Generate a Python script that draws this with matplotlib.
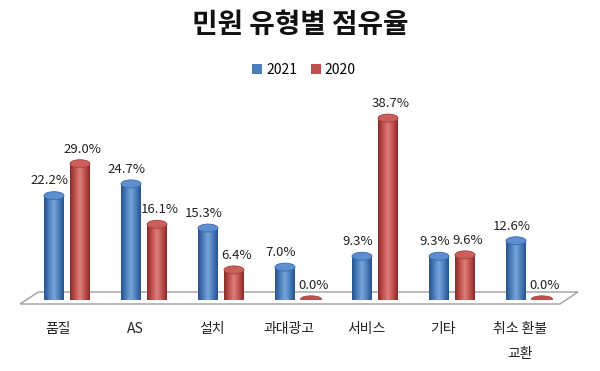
import numpy as np
import matplotlib
matplotlib.use("Agg")
from matplotlib import pyplot as plt
from matplotlib.patches import Ellipse, Polygon, Rectangle
from matplotlib.colors import LinearSegmentedColormap

plt.rcParams['font.family'] = ['Noto Sans CJK KR', 'DejaVu Sans']

# 데이터
categories = ["품질", "AS", "설치", "과대광고", "서비스", "기타", "취소 환불\n교환"]
series_names = ["2021", "2020"]
values_2021 = [22.2, 24.7, 15.3, 7.0, 9.3, 9.3, 12.6]
values_2020 = [29.0, 16.1, 6.4, 0.0, 38.7, 9.6, 0.0]

W, H = 600, 371
fig = plt.figure(figsize=(W / 100, H / 100), dpi=100)
fig.patch.set_facecolor("white")

# 축 위치 (픽셀 기준으로 맞춤)
left_px, width_px = 28.5, 539
base_px, scale = 300, 4.7   # y=0 위치, % 당 픽셀
ymax = 45
ax = fig.add_axes([left_px / W, (H - base_px) / H, width_px / W, ymax * scale / H])
ax.set_xlim(-0.5, 6.5)
ax.set_ylim(0, ymax)
ax.axis("off")

px_x = 1 / 77.0      # 1 픽셀 -> x 데이터
px_y = 1 / scale     # 1 픽셀 -> y 데이터

# 바닥면
floor = Polygon([(-0.5 - 8.5 * px_x, -4 * px_y), (-0.5 + 10 * px_x, 8 * px_y),
                 (6.5 + 10.5 * px_x, 8 * px_y), (6.5 - 7.5 * px_x, -4 * px_y)],
                closed=True, facecolor="white", edgecolor="#a0a0a0", lw=1.0,
                clip_on=False, zorder=1)
ax.add_patch(floor)

styles = {
    "2021": dict(dark="#27538f", mid="#4a7ebb", light="#7aa5dc", cap="#5d8fd0", capedge="#3a6aa8"),
    "2020": dict(dark="#8a2a28", mid="#c0504d", light="#de7f7c", cap="#cc5f5c", capedge="#a33f3c"),
}

bw = 20 * px_x
eh = 8 * px_y
offset = 13 * px_x


def cylinder(x, h, st):
    if h <= 0:
        ax.add_patch(Ellipse((x, 1.0 * px_y), bw * 1.05, eh * 0.8, facecolor=st["mid"],
                             edgecolor=st["capedge"], lw=0.5, zorder=3))
        return
    cmap = LinearSegmentedColormap.from_list(
        "c", [st["dark"], st["mid"], st["light"], st["mid"], st["dark"]])
    grad = np.linspace(0, 1, 64)[None, :]
    im = ax.imshow(grad, cmap=cmap, extent=[x - bw / 2, x + bw / 2, 0, h],
                   aspect="auto", zorder=3, interpolation="bilinear")
    clip = Rectangle((x - bw / 2, 0), bw, h, transform=ax.transData)
    im.set_clip_path(clip)
    ax.add_patch(Ellipse((x, 0), bw, eh, facecolor=st["dark"], edgecolor="none", zorder=2.9))
    ax.add_patch(Ellipse((x, h), bw, eh, facecolor=st["cap"], edgecolor=st["capedge"],
                         lw=0.6, zorder=4))


for i, cat in enumerate(categories):
    for name, vals, dx, tx in (("2021", values_2021, -offset, -3),
                               ("2020", values_2020, offset, 2)):
        v = vals[i]
        x = i + dx
        cylinder(x, v, styles[name])
        ax.annotate(f"{v:.1f}%", (x, v + eh / 2), xytext=(tx, 3), textcoords="offset points",
                    ha="center", va="bottom", fontsize=9.5, color="#222222", zorder=5)
    for k, line in enumerate(cat.split("\n")):
        ax.text(i - 9 * px_x, -(29 + 25 * k) * px_y, line, ha="center", va="center",
                fontsize=10, color="#222222", clip_on=False)

# 범례
handles = [Rectangle((0, 0), 1, 1, facecolor=styles[n]["mid"]) for n in series_names]
fig.legend(handles, series_names, loc="center", bbox_to_anchor=(304 / W, 1 - 70 / H),
           ncol=2, frameon=False, fontsize=10, handlelength=0.7, handleheight=0.7,
           handletextpad=0.3, columnspacing=1.0)

fig.text(0.5, 1 - 25 / H, "민원 유형별 점유율", ha="center", va="center",
         fontsize=20, fontweight="bold", color="#111111")

fig.savefig("out.png", dpi=100, facecolor="white")
